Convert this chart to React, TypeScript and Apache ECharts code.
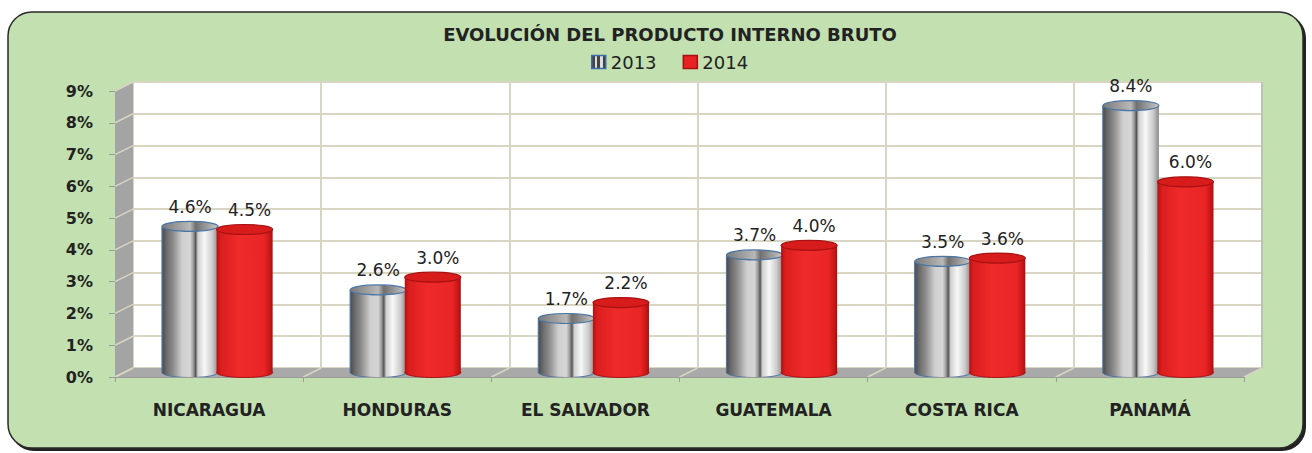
import React, { useEffect, useRef } from 'react';
import * as echarts from 'echarts';

const categories = ['NICARAGUA', 'HONDURAS', 'EL SALVADOR', 'GUATEMALA', 'COSTA RICA', 'PANAMÁ'];
const values2013 = [4.6, 2.6, 1.7, 3.7, 3.5, 8.4];
const values2014 = [4.5, 3.0, 2.2, 4.0, 3.6, 6.0];
const seriesNames = ['2013', '2014'];
const chartTitle = 'EVOLUCIÓN DEL PRODUCTO INTERNO BRUTO';
const Y_MIN = 0;
const Y_MAX = 9;
const Y_STEP = 1;

// 3D geometry (back wall, then depth offset)
const BACK = { left: 133, right: 1262, top: 82, bottom: 368 };
const DX = -18;
const DY = 9;
const FONT = '"DejaVu Sans", sans-serif';

const gridOf = (dx: number, dy: number) => ({
  left: BACK.left + dx,
  top: BACK.top + dy,
  width: BACK.right - BACK.left,
  height: BACK.bottom - BACK.top,
});

const silverBody = () =>
  new echarts.graphic.LinearGradient(0, 0, 1, 0, [
    { offset: 0, color: '#4a4a4a' },
    { offset: 0.08, color: '#6a6a6a' },
    { offset: 0.2, color: '#8e8e8e' },
    { offset: 0.36, color: '#cfcfcf' },
    { offset: 0.5, color: '#d6d6d6' },
    { offset: 0.56, color: '#9a9a9a' },
    { offset: 0.6, color: '#555555' },
    { offset: 0.64, color: '#cfcfcf' },
    { offset: 0.76, color: '#f8f8f8' },
    { offset: 0.9, color: '#cacaca' },
    { offset: 1, color: '#8a8a8a' },
  ]);

const redBody = () =>
  new echarts.graphic.LinearGradient(0, 0, 1, 0, [
    { offset: 0, color: '#b51212' },
    { offset: 0.08, color: '#dc1e1e' },
    { offset: 0.4, color: '#ef2a2a' },
    { offset: 0.85, color: '#e92525' },
    { offset: 0.95, color: '#c81616' },
    { offset: 1, color: '#a81010' },
  ]);

const makeRender = (offsetFrac: number, labelDx: number, silver: boolean) => (params: any, api: any) => {
  const idx = api.value(0);
  const v = api.value(1);
  const top = api.coord([idx, v]);
  const base = api.coord([idx, 0]);
  const band = api.size([1, 0])[0];
  const bw = band * 0.298;
  const rx = bw / 2;
  const ry = 5;
  const cx = top[0] + offsetFrac * band;
  const stroke = silver ? '#4a76a6' : '#a81212';
  const children: any[] = [
    {
      type: 'ellipse',
      shape: { cx, cy: base[1], rx, ry },
      style: { fill: silver ? silverBody() : redBody(), stroke, lineWidth: 1 },
    },
    {
      type: 'rect',
      shape: { x: cx - rx, y: top[1], width: bw, height: base[1] - top[1] },
      style: { fill: silver ? silverBody() : redBody() },
    },
  ];
  if (silver) {
    children.push({
      type: 'line',
      shape: { x1: cx - rx, y1: top[1], x2: cx - rx, y2: base[1] },
      style: { stroke, lineWidth: 1.2 },
    });
  }
  children.push({
    type: 'ellipse',
    shape: { cx, cy: top[1], rx, ry },
    style: {
      fill: silver
        ? new echarts.graphic.LinearGradient(0, 0, 1, 0, [
            { offset: 0, color: '#7a7a7a' },
            { offset: 0.5, color: '#b8b8b8' },
            { offset: 0.6, color: '#707070' },
            { offset: 1, color: '#c8c8c8' },
          ])
        : '#d81c1c',
      stroke,
      lineWidth: 1.2,
    },
  });
  children.push({
    type: 'text',
    style: {
      text: v.toFixed(1) + '%',
      x: cx + labelDx,
      y: top[1] - 11,
      align: 'center',
      verticalAlign: 'bottom',
      fill: '#222',
      font: '17px ' + FONT,
    },
  });
  return { type: 'group', children };
};

export default function App() {
  const ref = useRef<HTMLDivElement>(null);
  useEffect(() => {
    document.body.style.margin = '0';
    const chart = echarts.init(ref.current!, null, { renderer: 'svg' });

    const back = gridOf(0, 0);
    const front = gridOf(DX, DY);
    const mid = gridOf(DX / 2, DY / 2);

    const decor: any[] = [];
    // panel shadow and panel
    decor.push({
      type: 'rect',
      z: -20,
      shape: { x: 10, y: 14, width: 1296, height: 437, r: 24 },
      style: { fill: '#222' },
    });
    decor.push({
      type: 'rect',
      z: -19,
      shape: { x: 8, y: 12, width: 1295, height: 436, r: 24 },
      style: { fill: '#c3e0b0', stroke: '#2a2a2a', lineWidth: 1.5 },
    });
    // left side wall
    decor.push({
      type: 'polygon',
      z: 1,
      shape: {
        points: [
          [BACK.left, BACK.top],
          [BACK.left, BACK.bottom],
          [BACK.left + DX, BACK.bottom + DY],
          [BACK.left + DX, BACK.top + DY],
        ],
      },
      style: { fill: '#a4a4a4' },
    });
    // floor
    decor.push({
      type: 'polygon',
      z: 1,
      shape: {
        points: [
          [BACK.left, BACK.bottom],
          [BACK.right, BACK.bottom],
          [BACK.right + DX, BACK.bottom + DY],
          [BACK.left + DX, BACK.bottom + DY],
        ],
      },
      style: { fill: '#a9a9a9' },
    });
    // right edge shade of back wall
    decor.push({
      type: 'line',
      z: 1,
      shape: { x1: BACK.right, y1: BACK.top, x2: BACK.right, y2: BACK.bottom },
      style: { stroke: '#b8b8b8', lineWidth: 1.5 },
    });
    const nSteps = (Y_MAX - Y_MIN) / Y_STEP;
    for (let i = 0; i <= nSteps; i++) {
      const yB = BACK.bottom - ((BACK.bottom - BACK.top) * i) / nSteps;
      decor.push({
        type: 'line',
        z: 1,
        shape: { x1: BACK.left, y1: yB, x2: BACK.left + DX, y2: yB + DY },
        style: { stroke: '#d8d5c2', lineWidth: 1.5 },
      });
    }
    for (let i = 0; i <= categories.length; i++) {
      const xB = BACK.left + ((BACK.right - BACK.left) * i) / categories.length;
      decor.push({
        type: 'line',
        z: 1,
        shape: { x1: xB, y1: BACK.bottom, x2: xB + DX, y2: BACK.bottom + DY },
        style: { stroke: '#d8d5c2', lineWidth: 1.5 },
      });
    }

    const hiddenY = (gridIndex: number) => ({
      type: 'value',
      gridIndex,
      min: Y_MIN,
      max: Y_MAX,
      interval: Y_STEP,
      show: false,
    });

    const stripes = new echarts.graphic.LinearGradient(0, 0, 1, 0, [
      { offset: 0, color: '#444' },
      { offset: 0.2, color: '#444' },
      { offset: 0.2, color: '#ddd' },
      { offset: 0.4, color: '#ddd' },
      { offset: 0.4, color: '#444' },
      { offset: 0.6, color: '#444' },
      { offset: 0.6, color: '#ddd' },
      { offset: 0.8, color: '#ddd' },
      { offset: 0.8, color: '#444' },
      { offset: 1, color: '#444' },
    ]);

    chart.setOption({
      animation: false,
      title: {
        text: chartTitle,
        left: 665,
        top: 20,
        textAlign: 'center',
        textStyle: { fontFamily: FONT, fontWeight: 'bold', fontSize: 18, color: '#222' },
      },
      legend: {
        left: 586,
        top: 48,
        itemWidth: 14,
        itemHeight: 13,
        itemGap: 26,
        icon: 'rect',
        textStyle: { fontFamily: FONT, fontSize: 18, color: '#222', padding: [0, 0, 0, 0] },
        data: [
          { name: seriesNames[0], itemStyle: { color: stripes, borderColor: '#3b6ea8', borderWidth: 1.5 } },
          { name: seriesNames[1], itemStyle: { color: '#e82222', borderColor: '#a51010', borderWidth: 1.5 } },
        ],
      },
      grid: [
        { ...back, show: true, backgroundColor: '#ffffff', borderWidth: 0 },
        { ...front },
        { ...mid },
      ],
      xAxis: [
        {
          type: 'category',
          gridIndex: 0,
          data: categories,
          axisLine: { show: false },
          axisTick: { show: false },
          axisLabel: { show: false },
          splitLine: { show: true, lineStyle: { color: '#d8d5c2', width: 2 } },
        },
        {
          type: 'category',
          gridIndex: 1,
          data: categories,
          axisLine: { show: true, lineStyle: { color: '#9a9a9a', width: 1 } },
          axisTick: { show: true, length: 5, lineStyle: { color: '#9a9a9a' } },
          axisLabel: {
            margin: 24,
            fontFamily: FONT,
            fontWeight: 'bold',
            fontSize: 17,
            color: '#222',
          },
          splitLine: { show: false },
          z: 3,
        },
        { type: 'category', gridIndex: 2, data: categories, show: false },
      ],
      yAxis: [
        {
          type: 'value',
          gridIndex: 0,
          min: Y_MIN,
          max: Y_MAX,
          interval: Y_STEP,
          axisLine: { show: false },
          axisTick: { show: false },
          axisLabel: { show: false },
          splitLine: { show: true, lineStyle: { color: '#d8d5c2', width: 2 } },
        },
        {
          type: 'value',
          gridIndex: 1,
          min: Y_MIN,
          max: Y_MAX,
          interval: Y_STEP,
          axisLine: { show: false },
          axisTick: { show: true, length: 6, lineStyle: { color: '#9a9a9a' } },
          axisLabel: {
            formatter: '{value}%',
            margin: 22,
            fontFamily: FONT,
            fontWeight: 'bold',
            fontSize: 16,
            color: '#222',
          },
          splitLine: { show: false },
        },
        hiddenY(2),
      ],
      graphic: { elements: decor },
      series: [
        {
          name: seriesNames[0],
          type: 'custom',
          xAxisIndex: 2,
          yAxisIndex: 2,
          itemStyle: { color: '#9a9a9a' },
          encode: { x: 0, y: 1 },
          data: values2013.map((v, i) => [i, v]),
          renderItem: makeRender(-0.149, 0, true),
          z: 3,
        },
        {
          name: seriesNames[1],
          type: 'custom',
          xAxisIndex: 2,
          yAxisIndex: 2,
          itemStyle: { color: '#e82222' },
          encode: { x: 0, y: 1 },
          data: values2014.map((v, i) => [i, v]),
          renderItem: makeRender(0.141, 5, false),
          z: 4,
        },
      ],
    });
    return () => chart.dispose();
  }, []);
  return <div ref={ref} style={{ width: 1312, height: 453 }} />;
}
